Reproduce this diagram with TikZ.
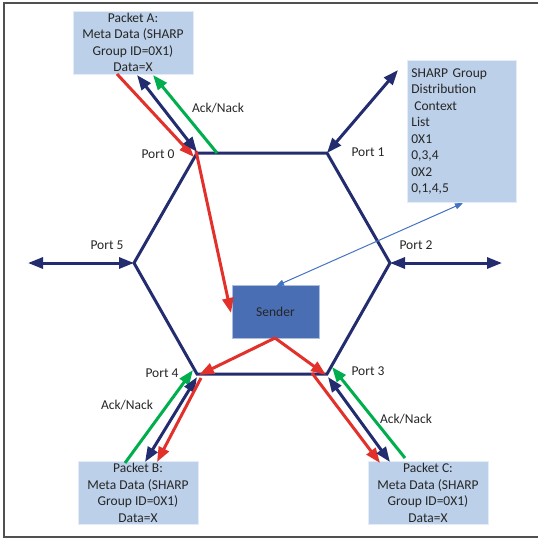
\documentclass[tikz,border=0pt]{standalone}
\usepackage{fontspec}
\setmainfont{Carlito}
\usetikzlibrary{arrows.meta}
\definecolor{navy}{HTML}{222C6E}
\definecolor{redA}{HTML}{E2312A}
\definecolor{greenA}{HTML}{00AE4D}
\definecolor{boxfill}{HTML}{BCD0E9}
\definecolor{sendfill}{HTML}{4A6EB4}
\definecolor{thinblue}{HTML}{4472C4}
\definecolor{txt}{HTML}{262626}
\definecolor{frame}{HTML}{505050}
\begin{document}
\begin{tikzpicture}[x=1pt,y=-1pt,
  lbl/.style={font=\fontsize{13.5}{16.5}\selectfont, text=txt, inner sep=0pt},
  pbox/.style={lbl, draw=white!60!boxfill, line width=0.8pt, fill=boxfill, minimum width=120pt, minimum height=63pt, align=center},
  hexline/.style={draw=navy, line width=3pt, line join=miter},
  fwd/.style={line width=3pt, -{Triangle[length=15pt,width=11pt]}},
  both/.style={line width=3pt, {Triangle[length=15pt,width=11pt]}-{Triangle[length=15pt,width=11pt]}},
  thin/.style={draw=thinblue, line width=1pt, {Triangle[length=8pt,width=6pt]}-{Triangle[length=8pt,width=6pt]}}
]
\useasboundingbox (0,0) rectangle (538,539);
% frame
\draw[frame, line width=1.5pt] (538,3) -- (4,3) -- (4,537) -- (538,537);

% hexagon vertices
\coordinate (p0) at (197,153);
\coordinate (p1) at (327,153);
\coordinate (p2) at (390,263);
\coordinate (p3) at (327,374);
\coordinate (p4) at (197,374);
\coordinate (p5) at (134,263);
\draw[hexline] (p0) -- (p1) -- (p2) -- (p3) -- (p4) -- (p5) -- cycle;

% boxes
\node[pbox] (pa) at (133,42.5) {Packet A:\\Meta Data (SHARP\\Group ID=0X1)\\Data=X};
\node[pbox] (pb) at (138,493) {Packet B:\\Meta Data (SHARP\\Group ID=0X1)\\Data=X};
\node[pbox] (pc) at (428,493) {Packet C:\\Meta Data (SHARP\\Group ID=0X1)\\Data=X};
\node[lbl, draw=white!60!boxfill, line width=0.8pt, fill=boxfill, anchor=north west, minimum width=109pt, minimum height=142pt, text width=101pt, inner xsep=4pt, align=left] (sharp) at (407,60)
  {SHARP Group\\Distribution\\\hspace{3pt}Context\\List\\0X1\\0,3,4\\0X2\\0,1,4,5};
\node[lbl, draw=white!55!sendfill, line width=0.8pt, fill=sendfill, minimum width=87pt, minimum height=53pt] (sender) at (275.5,311.5) {Sender};

% port arrows
\coordinate (e1) at (398,70);
\coordinate (e2) at (502,263);
\coordinate (e5) at (28,263);
\draw[both, navy] (p1) -- (e1);
\draw[both, navy] (p2) -- (e2);
\draw[both, navy] (p5) -- (e5);

% packet A
\coordinate (a1) at (117,74);
\coordinate (a2) at (194,157);
\coordinate (a3) at (196,151);
\coordinate (a4) at (231,313);
\coordinate (a5) at (137,75);
\coordinate (a6) at (197,152);
\coordinate (a7) at (217,153);
\coordinate (a8) at (153,75);
\draw[fwd, redA] (a1) -- (a2);
\draw[fwd, redA] (a3) -- (a4);
\draw[both, navy] (a5) -- (a6);
\draw[fwd, greenA] (a7) -- (a8);

% sender to ports 3 and 4
\coordinate (s0) at (275,338);
\coordinate (s4) at (199,375);
\coordinate (s3) at (326,375);
\draw[fwd, redA] (s0) -- (s4);
\draw[fwd, redA] (s0) -- (s3);

% packet B
\coordinate (b1) at (125,463);
\coordinate (b2) at (193,370);
\coordinate (b3) at (145,462);
\coordinate (b4) at (197,377);
\coordinate (b5) at (201,378);
\coordinate (b6) at (157,462);
\draw[fwd, greenA] (b1) -- (b2);
\draw[both, navy] (b3) -- (b4);
\draw[fwd, redA] (b5) -- (b6);

% packet C
\coordinate (c1) at (312,373);
\coordinate (c2) at (380,463);
\coordinate (c3) at (328,377);
\coordinate (c4) at (390,462);
\coordinate (c5) at (405,458);
\coordinate (c6) at (332,367);
\draw[fwd, redA] (c1) -- (c2);
\draw[both, navy] (c3) -- (c4);
\draw[fwd, greenA] (c5) -- (c6);

% thin blue arrow between SHARP table and sender
\coordinate (t1) at (463,203);
\coordinate (t2) at (276,286);
\draw[thin] (t1) -- (t2);

% labels
\node[lbl] (l0) at (158,154) {Port 0};
\node[lbl] (l1) at (368,152) {Port 1};
\node[lbl] (l2) at (416,245) {Port 2};
\node[lbl] (l3) at (368,371) {Port 3};
\node[lbl] (l4) at (162,373) {Port 4};
\node[lbl] (l5) at (107,245) {Port 5};
\node[lbl] (ka) at (218,108) {Ack/Nack};
\node[lbl] (kb) at (127,405) {Ack/Nack};
\node[lbl] (kc) at (406,419) {Ack/Nack};
\end{tikzpicture}
\end{document}
